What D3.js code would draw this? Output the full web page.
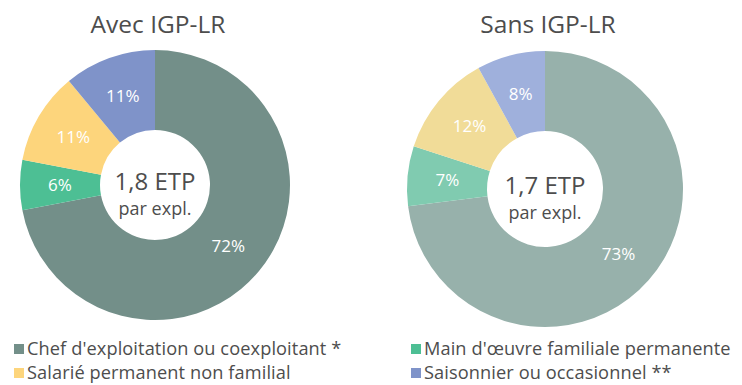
<!DOCTYPE html>
<html>
<head>
<meta charset="utf-8">
<script src="https://cdn.jsdelivr.net/npm/d3@7"></script>
<style>
  html, body { margin: 0; padding: 0; background: #fff; }
  svg { display: block; font-family: "Open Sans", Lato, sans-serif; }
</style>
</head>
<body>
<svg id="chart" width="742" height="385"></svg>
<script>
// Workforce categories (ETP share per farm)
const categories = [
  "Chef d'exploitation ou coexploitant *",
  "Main d'œuvre familiale permanente",
  "Salarié permanent non familial",
  "Saisonnier ou occasionnel **"
];
const panelTitles = ["Avec IGP-LR", "Sans IGP-LR"];
const totalEtp = ["1,8 ETP", "1,7 ETP"];
const avecValues = [72, 6, 11, 11];
const sansValues = [73, 7, 12, 8];
const avecColors = ["#738f89", "#4dbf94", "#fdd57c", "#7f93c9"];
const sansColors = ["#97b1ab", "#80cbb0", "#f1dc98", "#9fb0dc"];

const svg = d3.select("#chart");
const textColor = "#4d4d4d";

const panels = [
  { title: panelTitles[0], etp: totalEtp[0], values: avecValues, colors: avecColors, cx: 155, cy: 185, r: 135, r0: 55 },
  { title: panelTitles[1], etp: totalEtp[1], values: sansValues, colors: sansColors, cx: 545, cy: 189, r: 138, r0: 58 }
];

const pie = d3.pie().sort(null).value(d => d);

panels.forEach(p => {
  const g = svg.append("g").attr("transform", `translate(${p.cx},${p.cy})`);
  const arc = d3.arc().innerRadius(p.r0).outerRadius(p.r);
  const arcs = pie(p.values);

  g.selectAll("path.slice").data(arcs).enter().append("path")
    .attr("class", "slice")
    .attr("d", arc)
    .attr("fill", (d, i) => p.colors[i]);

  g.selectAll("text.pct").data(arcs).enter().append("text")
    .attr("class", "pct")
    .attr("transform", d => `translate(${arc.centroid(d)})`)
    .attr("text-anchor", "middle")
    .attr("dy", "0.35em")
    .attr("fill", "#fff")
    .attr("font-size", 17)
    .text(d => d.data + "%");

  g.append("text")
    .attr("text-anchor", "middle")
    .attr("y", 5)
    .attr("fill", textColor)
    .attr("font-size", 24)
    .text(p.etp);
  g.append("text")
    .attr("text-anchor", "middle")
    .attr("y", 30)
    .attr("fill", textColor)
    .attr("font-size", 18)
    .text("par expl.");

  svg.append("text")
    .attr("x", p.cx + 3)
    .attr("y", 33)
    .attr("text-anchor", "middle")
    .attr("fill", textColor)
    .attr("font-size", 24.5)
    .text(p.title);
});

// Legend in two columns
const legendPos = [
  { x: 14, y: 355 }, { x: 411, y: 355 },
  { x: 14, y: 379 }, { x: 411, y: 379 }
];
const legendOrder = [0, 1, 2, 3];
const lg = svg.selectAll("g.legend").data(legendOrder).enter().append("g")
  .attr("class", "legend")
  .attr("transform", (d, i) => `translate(${legendPos[i].x},${legendPos[i].y})`);
lg.append("rect")
  .attr("x", 0).attr("y", -11)
  .attr("width", 10).attr("height", 10)
  .attr("fill", d => avecColors[d]);
lg.append("text")
  .attr("x", 13)
  .attr("y", 0)
  .attr("fill", textColor)
  .attr("font-size", 18.2)
  .attr("letter-spacing", 0.1)
  .text(d => categories[d]);
</script>
</body>
</html>
